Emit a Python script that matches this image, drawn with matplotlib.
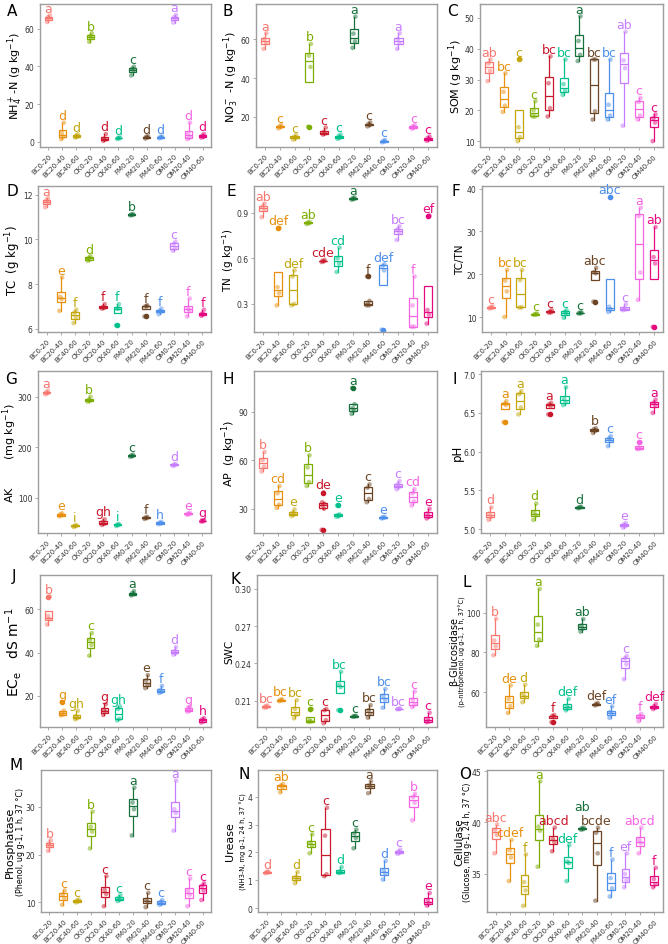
import numpy as np
import matplotlib
matplotlib.use('Agg')
import matplotlib.pyplot as plt

plt.rcParams['font.family'] = ['Liberation Sans Narrow', 'DejaVu Sans']
plt.rcParams['mathtext.default'] = 'regular'

# groups and colours
groups = ['BC0-20', 'BC20-40', 'BC40-60', 'CK0-20', 'CK20-40', 'CK40-60',
          'FM0-20', 'FM20-40', 'FM40-60', 'OM0-20', 'OM20-40', 'OM40-60']
colors = ['#F8766D', '#E8900E', '#C2A60A', '#7CAE00', '#C9182C', '#00C08B',
          '#16703A', '#6B4423', '#4D8FEA', '#C77CFF', '#F564E3', '#E5097F']

# replicate values (one list per group)
nh4 = [[63.5, 65.2, 66.0, 67.0], [1.5, 2.8, 4.8, 10.2], [2.3, 2.8, 3.3, 4.0], [53, 55, 56, 57.5],
       [0.6, 1.2, 1.8, 4.2], [1.6, 1.9, 2.1, 2.4], [35.2, 37.8, 38.8, 39.8], [1.8, 2.3, 2.7, 3.0],
       [1.9, 2.3, 2.6, 2.9], [63.2, 65.2, 66.0, 67.2], [1.5, 2.5, 4.5, 10.2], [2.3, 2.8, 3.3, 4.2]]
nh4_letters = ['a', 'd', 'd', 'b', 'd', 'd', 'c', 'd', 'd', 'a', 'd', 'd']

no3 = [[55, 58, 60, 63], [14.2, 14.8, 15.2, 15.8], [8.4, 9.2, 9.8, 10.6], [15, 45.7, 51.5, 57.5],
       [11.0, 11.6, 12.4, 14.6], [8.8, 9.6, 10.2, 11.0], [55.5, 58.8, 62.8, 71.5], [15.2, 15.8, 16.4, 17.2],
       [7.0, 7.4, 7.7, 8.2], [55, 58, 60, 63], [14, 14.6, 15.2, 15.8], [7.8, 8.6, 9.2, 10.0]]
no3_letters = ['a', 'c', 'c', 'b', 'c', 'c', 'a', 'c', 'c', 'a', 'c', 'c']

som = [[29.5, 32.8, 35.2, 36.5], [19.5, 21.5, 26.0, 32.0], [10.0, 11.3, 14.5, 36.5], [18.0, 18.0, 20.0, 23.0],
       [18.0, 20.7, 28.8, 37.5], [25.0, 26.3, 28.5, 36.5], [36.0, 38.0, 42.5, 50.5], [17.0, 19.7, 36.5, 36.5],
       [17.0, 18.3, 21.8, 36.5], [15.0, 33.7, 36.2, 45.5], [17.0, 18.3, 22.7, 24.0], [10.0, 16.0, 17.5, 18.7]]
som_letters = ['ab', 'bc', 'c', 'c', 'bc', 'bc', 'a', 'bc', 'bc', 'ab', 'c', 'c']

tc = [[11.45, 11.65, 11.75, 11.85], [6.8, 7.33, 7.43, 8.3], [6.25, 6.52, 6.72, 6.85], [9.05, 9.12, 9.18, 9.25],
      [6.9, 6.93, 6.97, 7.1], [6.15, 6.9, 6.9, 7.1], [11.08, 11.1, 11.12, 11.14], [6.55, 7.0, 7.0, 7.05],
      [6.65, 6.75, 6.8, 6.9], [9.5, 9.6, 9.8, 9.9], [6.55, 6.82, 6.9, 7.35], [6.58, 6.64, 6.68, 6.85]]
tc_letters = ['a', 'e', 'f', 'd', 'f', 'f', 'b', 'f', 'f', 'c', 'f', 'f']

tn = [[0.87, 0.92, 0.94, 0.96], [0.29, 0.37, 0.41, 0.80], [0.29, 0.30, 0.48, 0.52], [0.825, 0.83, 0.835, 0.84],
      [0.575, 0.58, 0.583, 0.588], [0.51, 0.565, 0.60, 0.67], [0.985, 0.99, 0.995, 1.0],
      [0.29, 0.29, 0.30, 0.32, 0.48], [0.13, 0.52, 0.55, 0.56], [0.72, 0.77, 0.79, 0.81],
      [0.15, 0.15, 0.29, 0.48], [0.17, 0.23, 0.26, 0.88]]
tn_letters = ['ab', 'def', 'def', 'ab', 'cde', 'cd', 'a', 'f', 'def', 'bc', 'f', 'ef']

tctn = [[12.0, 12.1, 12.3, 12.5], [10.0, 16.0, 18.5, 21.0], [12.2, 12.3, 18.6, 21.0], [10.5, 10.6, 10.7, 10.8],
        [11.0, 11.1, 11.3, 11.6], [9.8, 10.8, 11.2, 11.6], [10.8, 10.9, 11.0, 11.1], [13.6, 20.2, 20.5, 21.5],
        [11.2, 11.8, 12.4, 38.0], [11.6, 11.8, 12.0, 13.0], [14.0, 20.4, 33.6, 35.5], [7.7, 22.5, 24.0, 31.0]]
tctn_letters = ['c', 'bc', 'bc', 'c', 'c', 'c', 'c', 'abc', 'abc', 'c', 'a', 'ab']

ak = [[305, 307, 309, 312], [63, 65, 67, 69], [42, 43.5, 44.5, 46], [290, 292, 294, 300],
      [46, 48, 52, 57], [44, 45.5, 46.5, 48], [181, 182.5, 183.5, 185], [58, 59.5, 60.5, 62],
      [47.5, 49, 50.5, 52], [163, 164.5, 165.5, 167], [66, 67.5, 68.5, 70], [52.5, 53.5, 54.5, 55.5]]
ak_letters = ['a', 'e', 'i', 'b', 'gh', 'i', 'c', 'f', 'h', 'd', 'e', 'g']

ap = [[53, 56, 60, 65], [30.5, 32.5, 39.5, 44], [25.5, 26.5, 27.5, 29.5], [44, 46.5, 55.5, 63],
      [17, 30, 32, 33, 34, 40], [25, 25.5, 26, 26.5, 32], [88.5, 90.5, 92, 94.5, 104.5], [34, 36, 43, 45],
      [24, 24.3, 24.7, 25], [42, 43.5, 45, 47], [32, 34.5, 39.5, 42], [24, 25, 27, 30]]
ap_letters = ['b', 'cd', 'e', 'b', 'de', 'e', 'a', 'c', 'e', 'c', 'cd', 'e']

ph = [[5.12, 5.16, 5.2, 5.28], [6.38, 6.6, 6.62, 6.65], [6.48, 6.57, 6.74, 6.78], [5.12, 5.18, 5.22, 5.33],
      [6.48, 6.59, 6.61, 6.63], [6.6, 6.64, 6.68, 6.83], [5.27, 5.28, 5.28, 5.29], [6.24, 6.27, 6.29, 6.3],
      [6.07, 6.14, 6.17, 6.2], [5.02, 5.04, 5.06, 5.08], [6.03, 6.04, 6.05, 6.12], [6.5, 6.6, 6.63, 6.67]]
ph_letters = ['d', 'a', 'a', 'd', 'a', 'a', 'd', 'b', 'c', 'e', 'c', 'a']

ece = [[53, 55.5, 57, 66], [10.8, 11.2, 12, 13, 17], [9, 9.5, 10.5, 13], [38.5, 43.5, 46, 49],
       [11, 12.5, 13.5, 16], [8.5, 9.2, 13.8, 15], [66.5, 67, 67.5, 68.5], [23.5, 25, 27, 29.5],
       [21.2, 21.8, 22.5, 24.5], [39, 39.8, 40.5, 42.5], [12.5, 13.2, 13.8, 15], [7.5, 8, 9, 9.5]]
ece_letters = ['b', 'g', 'gh', 'c', 'g', 'gh', 'a', 'e', 'f', 'd', 'g', 'h']

swc = [[0.2045, 0.205, 0.2058, 0.2062], [0.2098, 0.2103, 0.2108, 0.2113], [0.196, 0.199, 0.2035, 0.2105],
       [0.193, 0.1935, 0.1945, 0.2035], [0.192, 0.1945, 0.2025, 0.2035], [0.2025, 0.221, 0.223, 0.2334],
       [0.1972, 0.1975, 0.1978, 0.198], [0.1965, 0.1995, 0.2025, 0.2065], [0.2045, 0.211, 0.214, 0.2195],
       [0.2032, 0.2034, 0.2036, 0.2038], [0.205, 0.207, 0.211, 0.2175], [0.1928, 0.1935, 0.1955, 0.2005]]
swc_letters = ['bc', 'bc', 'bc', 'c', 'c', 'bc', 'c', 'bc', 'bc', 'bc', 'c', 'c']

glu = [[78.6, 83, 86, 97], [49.5, 53, 56.5, 63.4], [54.9, 57.5, 59, 63.7], [83.3, 86.5, 94, 112],
       [44.8, 47.5, 48, 48.5], [50.8, 52, 53, 56.6], [90.5, 92, 93.5, 96.8], [53.3, 53.7, 54, 54.5],
       [47, 49, 50, 52.8], [66.5, 74, 77, 78.2], [45.3, 47.3, 48, 49], [51.5, 52, 52.8, 54]]
glu_letters = ['b', 'de', 'd', 'a', 'f', 'def', 'ab', 'def', 'ef', 'c', 'f', 'def']

pho = [[20.8, 21.8, 22.3, 23], [9.5, 10.9, 11.7, 12.5], [10, 10.2, 10.4, 10.6], [21.3, 24.8, 25.8, 29],
       [9.2, 11.8, 12.6, 15.5], [10.3, 10.6, 11, 11.5], [24, 29.5, 30.9, 34], [9, 10.1, 10.5, 12],
       [9.5, 9.8, 10.1, 10.5], [25, 28.7, 29.5, 35.5], [9.2, 11.6, 12.4, 15], [10.5, 12.5, 13.5, 14]]
pho_letters = ['b', 'c', 'c', 'b', 'c', 'c', 'a', 'c', 'c', 'a', 'c', 'c']

ure = [[1.26, 1.28, 1.3, 1.32], [4.15, 4.33, 4.4, 4.45], [0.9, 1.05, 1.12, 1.3], [1.97, 2.25, 2.35, 2.65],
       [1.15, 1.22, 2.6, 3.6], [1.26, 1.28, 1.32, 1.48], [2.15, 2.52, 2.68, 2.82], [4.12, 4.35, 4.4, 4.55],
       [1.03, 1.25, 1.35, 1.7], [1.95, 2.0, 2.04, 2.1], [3.15, 3.78, 3.98, 4.1], [0.1, 0.18, 0.3, 0.55]]
ure_letters = ['d', 'ab', 'd', 'c', 'c', 'd', 'c', 'a', 'd', 'c', 'b', 'e']

cel = [[37, 38.8, 39.3, 39.8], [34.3, 36.6, 37.3, 38.3], [31.9, 33.4, 34.2, 36.9], [35.7, 39.2, 39.6, 44],
       [37.2, 38.1, 38.4, 39.5], [34.3, 36.05, 36.2, 37.8], [39.3, 39.35, 39.45, 39.5], [32.4, 37, 39, 39.5],
       [32.8, 33.6, 34.6, 36.4], [33.7, 34.4, 35, 37], [37, 38, 38.3, 39.5], [33.7, 34, 34.5, 35.6]]
cel_letters = ['abc', 'cdef', 'f', 'a', 'abcd', 'def', 'ab', 'bcde', 'f', 'ef', 'abcd', 'f']

# panel: tag, data, letters, ylabel, sub-label, ylim, yticks, tick labels
panels = [
    ('A', nh4, nh4_letters, r'NH$_4^+$-N (g kg$^{-1}$)', None, (-2.7, 73), [0, 20, 40, 60], None),
    ('B', no3, no3_letters, r'NO$_3^-$ -N (g kg$^{-1}$)', None, (4.6, 78), [20, 40, 60], None),
    ('C', som, som_letters, r'SOM (g kg$^{-1}$)', None, (8.1, 54.5), [10, 20, 30, 40, 50], None),
    ('D', tc, tc_letters, r'TC  (g kg$^{-1}$)', None, (5.85, 12.4), [6, 8, 10, 12], None),
    ('E', tn, tn_letters, r'TN  (g kg$^{-1}$)', None, (0.115, 1.075), [0.3, 0.6, 0.9], ['0.3', '0.6', '0.9']),
    ('F', tctn, tctn_letters, 'TC/TN', None, (6.5, 40.6), [10, 20, 30, 40], None),
    ('G', ak, ak_letters, r'AK        (mg kg$^{-1}$)', None, (30, 351), [100, 200, 300], None),
    ('H', ap, ap_letters, r'AP  (g kg$^{-1}$)', None, (15, 115), [30, 60, 90], None),
    ('I', ph, ph_letters, 'pH', None, (4.95, 7.04), [5.0, 5.5, 6.0, 6.5, 7.0], ['5.0', '5.5', '6.0', '6.5', '7.0']),
    ('J', ece, ece_letters, r'EC$_e$   dS m$^{-1}$', None, (5.4, 76), [20, 40, 60], None),
    ('K', swc, swc_letters, 'SWC', None, (0.189, 0.311), [0.21, 0.24, 0.27, 0.30], ['0.21', '0.24', '0.27', '0.30']),
    ('L', glu, glu_letters, 'β-Glucosidase', '(p-nitrophenol, ug g-1, 1 h, 37°C)', (42.4, 119), [60, 80, 100], None),
    ('M', pho, pho_letters, 'Phosphatase', '(Phenol, ug g-1, 1 h, 37 °C)', (8, 37.7), [10, 20, 30], None),
    ('N', ure, ure_letters, 'Urease', '(NH3-N, mg g-1, 24 h, 37 °C)', (-0.13, 4.95), [0, 1, 2, 3, 4], None),
    ('O', cel, cel_letters, 'Cellulase', '(Glucose, mg g-1, 24 h, 37 °C)', (31.3, 45.1), [35, 40, 45], None),
]

W, H = 668, 945
fig = plt.figure(figsize=(W / 100, H / 100), dpi=100)

# layout in pixels
row_px = [(5, 148), (187, 333), (372, 534), (576, 728), (771, 913)]
left_px = [(40, 256, 480), (38, 254, 482), (38, 254, 481), (40, 257, 486), (41, 258, 487)]
right_px = [211, 437, 663]
tag_px = [(12, 12), (228, 12), (452, 12), (12, 192), (231, 191), (456, 191),
          (11, 380), (228, 380), (455, 380), (14, 577), (235, 580), (467, 583),
          (16, 766), (244, 775), (465, 775)]
ylab_dx = [25, 25, 24, 25, 26, 22, 28, 25, 24, 27, 28, 31.5, 31, 28, 28]
sub_dx = [0, 0, 0, 0, 0, 0, 0, 0, 0, 0, 0, 23.5, 20, 15, 19]
ylab_fs = [8, 8, 8, 8.5, 7.5, 7.5, 8, 8, 8.5, 10, 7.5, 7, 8, 8, 7.5]
sub_fs = [0, 0, 0, 0, 0, 0, 0, 0, 0, 0, 0, 4.8, 5.8, 4.9, 5.7]
# a few letters sit higher than the rest in the original
letter_lift = {('O', 6): 1.4}

jit = [-0.09, 0.07, -0.03, 0.1, -0.06, 0.03]
frame_col = '#9E9E9E'

for k, (tag, data, letters, ylab, sub, ylim, yticks, yticklab) in enumerate(panels):
    r, c = divmod(k, 3)
    top, bot = row_px[r]
    lft = left_px[r][c]
    rgt = right_px[c]
    wpx = rgt - lft
    ax = fig.add_axes([lft / W, 1 - bot / H, wpx / W, (bot - top) / H])

    pos = np.arange(1, len(groups) + 1)
    bp = ax.boxplot(data, positions=pos, widths=0.55, patch_artist=True,
                    showcaps=False, whis=1.5, zorder=2)
    for i, col in enumerate(colors):
        bp['boxes'][i].set(facecolor='none', edgecolor=col, linewidth=0.9)
        bp['medians'][i].set(color=col, linewidth=0.9)
        for w in bp['whiskers'][2 * i:2 * i + 2]:
            w.set(color=col, linewidth=0.9)
        bp['fliers'][i].set(marker='o', markerfacecolor=col, markeredgecolor=col,
                            markersize=3, alpha=1)
        vals = np.array(data[i])
        xs = pos[i] + np.array(jit[:len(vals)])
        ax.scatter(xs, vals, s=11, color=col, alpha=0.5, edgecolors='none', zorder=3)

    span = ylim[1] - ylim[0]
    for i, col in enumerate(colors):
        y = max(data[i]) + 0.025 * span + letter_lift.get((tag, i), 0)
        ax.text(pos[i], y, letters[i], color=col, ha='center', va='baseline', fontsize=9)

    ax.set_xlim(0.4, 12.6)
    ax.set_ylim(*ylim)
    ax.set_yticks(yticks)
    if yticklab is not None:
        ax.set_yticklabels(yticklab)
    ax.set_xticks(pos)
    ax.set_xticklabels(groups, rotation=45, ha='right', rotation_mode='anchor')
    ax.tick_params(axis='both', labelsize=5.5, length=2.5, width=0.6,
                   color=frame_col, labelcolor='#333333', pad=1.5)
    ax.tick_params(axis='x', labelsize=5)
    for s in ax.spines.values():
        s.set_color(frame_col)
        s.set_linewidth(1.0)

    ax.text(-ylab_dx[k] / wpx, 0.5, ylab, transform=ax.transAxes, rotation=90,
            ha='center', va='center', fontsize=ylab_fs[k])
    if sub is not None:
        ax.text(-sub_dx[k] / wpx, 0.5, sub, transform=ax.transAxes, rotation=90,
                ha='center', va='center', fontsize=sub_fs[k])

    tx, ty = tag_px[k]
    fig.text(tx / W, 1 - ty / H, tag, fontsize=11, ha='center', va='center')

fig.savefig('out.png', dpi=100)
